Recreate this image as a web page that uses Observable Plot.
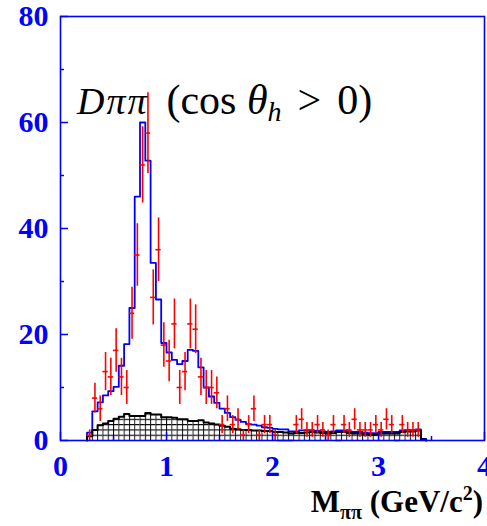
<!DOCTYPE html>
<html><head><meta charset="utf-8">
<script src="https://cdn.jsdelivr.net/npm/d3@7"></script>
<script src="https://cdn.jsdelivr.net/npm/@observablehq/plot@0.6"></script>
<style>html,body{margin:0;padding:0;background:#fff;overflow:hidden}svg{display:block}</style>
</head><body><div id="chart"></div>
<script>
// ---- data ----
const xDomain = [0, 4];
const yDomain = [0, 80];
const xTicksMajor = [0, 1, 2, 3, 4];
const xTicksMinor = [0.5, 1.5, 2.5, 3.5];
const yTicksMajor = [0, 20, 40, 60, 80];
const yTicksMinor = [10, 30, 50, 70];
const binStart = 0.25;
const binWidth = 0.05;

// data counts per 0.05 GeV bin (first bin 0.25-0.30)
const dataCounts = [1, 8, 6, 13, 12, 17, 12, 10, 24, 35, 52, 58, 27, 36, 18, 15, 22, 10, 13, 22,
  21, 12, 10, 10, 9, 3, 6, 3, 4, 1, 3, 6, 1, 3, 3, 1, 0, 0, 0, 3,
  4, 2, 2, 3, 2, 1, 3, 0, 3, 2, 4, 2, 2, 2, 3, 2, 4, 3, 0, 3,
  2, 2, 2];
const dataErrors = [1, 2.8, 2.4, 3.6, 3.5, 4.1, 3.5, 3.2, 4.9, 5.9, 7.2, 7.6, 5.2, 6, 4.2, 3.9, 4.7, 3.2, 3.6, 4.7,
  4.6, 3.5, 3.2, 3.2, 3, 1.7, 2.4, 1.7, 2, 1, 1.7, 2.4, 1, 1.7, 1.7, 1, 0, 0, 0, 1.7,
  2, 1.4, 1.4, 1.7, 1.4, 1, 1.7, 0, 1.7, 1.4, 2, 1.4, 1.4, 1.4, 1.7, 1.4, 2, 1.7, 0, 1.7,
  1.4, 1.4, 1.4];
// fit (blue) per bin
const fitValues = [1.5, 5.5, 7.2, 8.5, 9.3, 10.1, 14.1, 18.2, 25, 46, 60, 52.8, 33.5, 26.6, 18.4, 16.6,
  15.2, 14.4, 15.0, 17.1, 16.9, 13.8, 10.0, 8.3, 7.1, 6.0, 5.2, 4.4, 3.9, 3.5, 3.1, 3.0,
  2.8, 2.5, 2.4, 2.2, 2.1, 2.1, 1.7, 1.7, 1.9, 1.9, 1.9, 1.8, 1.7, 1.6, 1.7, 1.9,
  1.9, 1.7, 1.6, 1.6, 1.5, 1.4, 1.4, 1.6, 1.6, 1.6, 1.6, 1.9, 2.0, 2.0, 2.1, 0.3];
// background (hatched) per bin
const bkgValues = [0.8, 2.0, 2.9, 3.2, 3.7, 4.1, 4.5, 5.0, 4.6, 4.6, 4.6, 5.2, 4.9, 4.9, 4.4, 4.4,
  4.3, 4.0, 4.0, 3.7, 3.7, 3.8, 3.4, 3.2, 3.0, 2.8, 2.6, 2.2, 2.1, 2.0, 2.0, 1.9,
  1.9, 1.8, 1.8, 1.6, 1.6, 1.5, 1.3, 1.4, 1.4, 1.5, 1.6, 1.5, 1.4, 1.3, 1.4, 1.6,
  1.6, 1.4, 1.3, 1.3, 1.2, 1.1, 1.1, 1.3, 1.3, 1.3, 1.3, 1.6, 1.7, 1.7, 1.9, 0.2];

// ---- tables ----
const bins = fitValues.map((v, i) => ({
  x1: binStart + i * binWidth, x2: binStart + (i + 1) * binWidth, fit: v, bkg: bkgValues[i]
}));
const points = dataCounts.map((c, i) => ({
  x1: binStart + i * binWidth, x2: binStart + (i + 1) * binWidth,
  xc: binStart + (i + 0.5) * binWidth, y: c, e: dataErrors[i]
}));
function outline(key) {
  const arr = [{x: bins[0].x1, y: 0}];
  bins.forEach(b => arr.push({x: b.x1, y: b[key]}));
  arr.push({x: bins[bins.length - 1].x2, y: 0});
  return arr;
}

const serif = "'Liberation Serif', 'Times New Roman', serif";
const plot = Plot.plot({
  width: 487, height: 526,
  marginLeft: 60, marginRight: 3, marginTop: 16, marginBottom: 86,
  x: {domain: xDomain},
  y: {domain: yDomain},
  style: {background: "white", overflow: "visible"},
  marks: [
    Plot.rectY(bins, {x1: "x1", x2: "x2", y: "bkg", fill: "url(#hatchGrid)"}),
    Plot.lineY(outline("fit"), {x: "x", y: "y", curve: "step-after", stroke: "blue", strokeWidth: 1.8}),
    Plot.lineY(outline("bkg"), {x: "x", y: "y", curve: "step-after", stroke: "black", strokeWidth: 2}),
    Plot.ruleX(points.filter(d => d.e > 0), {x: "xc", y1: d => d.y - d.e, y2: d => d.y + d.e, stroke: "red", strokeWidth: 1.6}),
    Plot.ruleY(points, {y: "y", x1: "x1", x2: "x2", stroke: "red", strokeWidth: 1.6}),
    Plot.frame({stroke: "blue", strokeWidth: 1.6}),
    // ticks (inward)
    Plot.axisY(yTicksMajor, {anchor: "left", tickSize: -8, fill: "none", stroke: "blue", strokeWidth: 1.5, label: null}),
    Plot.axisY(yTicksMinor, {anchor: "left", tickSize: -4, fill: "none", stroke: "blue", strokeWidth: 1.5, label: null}),
    Plot.axisX(xTicksMajor, {anchor: "bottom", tickSize: -8, fill: "none", stroke: "blue", strokeWidth: 1.5, label: null}),
    Plot.axisX(xTicksMinor, {anchor: "bottom", tickSize: -4, fill: "none", stroke: "blue", strokeWidth: 1.5, label: null}),
    // labels
    Plot.axisY(yTicksMajor, {anchor: "left", tickSize: 0, tickPadding: 12, fill: "blue", fontSize: 30, fontWeight: "bold", fontFamily: serif, label: null}),
    Plot.axisX(xTicksMajor, {anchor: "bottom", tickSize: 0, tickPadding: 14, fill: "blue", fontSize: 30, fontWeight: "bold", fontFamily: serif, label: null})
  ]
});

const svg = d3.select(plot);
const defs = svg.insert("defs", ":first-child");
const pat = defs.append("pattern").attr("id", "hatchGrid").attr("patternUnits", "userSpaceOnUse")
  .attr("x", 60).attr("y", 440).attr("width", 5.3).attr("height", 5.3);
pat.append("rect").attr("width", 5.3).attr("height", 5.3).attr("fill", "white");
pat.append("path").attr("d", "M0,0.5H5.3M0.5,0V5.3").attr("stroke", "black").attr("stroke-width", 1);

const xs = plot.scale("x"), ys = plot.scale("y");
// in-plot title
const title = svg.append("text").attr("x", xs.apply(0.16)).attr("y", ys.apply(61.6))
  .attr("text-anchor", "start")
  .attr("font-family", serif).attr("font-size", 38).attr("fill", "black");
title.append("tspan").attr("font-style", "italic").attr("letter-spacing", 2).text("Dππ");
title.append("tspan").attr("dx", 18).attr("font-size", 42).text("(cos ");
title.append("tspan").attr("font-style", "italic").attr("font-size", 42).text("θ");
title.append("tspan").attr("font-style", "italic").attr("font-size", 28).attr("dy", 7).text("h");
title.append("tspan").attr("dy", -7).attr("dx", 16).attr("font-size", 42).text(">");
title.append("tspan").attr("dx", 16).attr("font-size", 42).text("0)");

// x axis title
const xt = svg.append("text").attr("x", 483).attr("y", 512).attr("text-anchor", "end")
  .attr("font-family", serif).attr("font-size", 31).attr("font-weight", "bold").attr("fill", "black");
xt.append("tspan").text("M");
xt.append("tspan").attr("font-size", 20).attr("dy", 7).text("ππ");
xt.append("tspan").attr("dy", -7).text(" (GeV/c");
xt.append("tspan").attr("font-size", 20).attr("dy", -12).text("2");
xt.append("tspan").attr("dy", 12).text(")");

document.getElementById("chart").appendChild(plot);
</script>
</body></html>
